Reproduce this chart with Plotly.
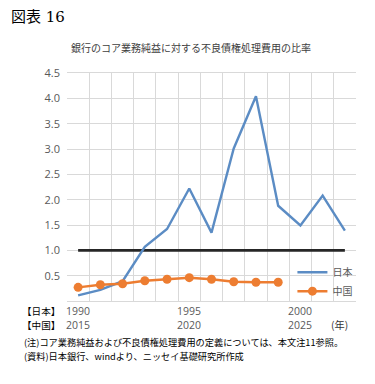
import plotly.graph_objects as go

# ---- data ----
japan_years = [1990, 1991, 1992, 1993, 1994, 1995, 1996, 1997, 1998, 1999, 2000, 2001, 2002]
japan_ratio = [0.11, 0.22, 0.39, 1.07, 1.42, 2.22, 1.35, 3.01, 4.04, 1.88, 1.49, 2.08, 1.39]
china_years = [2015, 2016, 2017, 2018, 2019, 2020, 2021, 2022, 2023, 2024]
china_ratio = [0.27, 0.32, 0.34, 0.40, 0.43, 0.46, 0.43, 0.38, 0.37, 0.37]
reference_level = 1.0
y_ticks = [0.5, 1.0, 1.5, 2.0, 2.5, 3.0, 3.5, 4.0, 4.5]
japan_tick_years = [1990, 1995, 2000]
china_tick_years = [2015, 2020, 2025]

title_text = "銀行のコア業務純益に対する不良債権処理費用の比率"
figure_label = "図表 16"
note_lines = ["(注)コア業務純益および不良債権処理費用の定義については、本文注11参照。",
              "(資料)日本銀行、windより、ニッセイ基礎研究所作成"]
row_labels = ["【日本】", "【中国】"]
unit_label = "(年)"

JP_FONT = "Noto Sans CJK JP"
NUM_FONT = "Open Sans, Noto Sans, sans-serif"
GRID = "#d9d9d9"
TICK_COL = "#595959"

fig = go.Figure()

fig.add_trace(go.Scatter(
    x=japan_years, y=[reference_level] * len(japan_years), mode="lines",
    line=dict(color="#262626", width=2.6), showlegend=False, hoverinfo="skip"))

fig.add_trace(go.Scatter(
    x=japan_years, y=japan_ratio, mode="lines", name="日本",
    line=dict(color="#5b8cc4", width=2.4)))

fig.add_trace(go.Scatter(
    x=china_years, y=china_ratio, mode="lines+markers", name="中国",
    xaxis="x2",
    line=dict(color="#ed7d31", width=2.4),
    marker=dict(color="#ed7d31", size=9)))

span = len(japan_years)
fig.update_layout(
    width=375, height=384,
    margin=dict(l=67, r=19, t=73, b=83),
    paper_bgcolor="white", plot_bgcolor="white",
    font=dict(family=JP_FONT, size=11, color="#000000"),
    xaxis=dict(
        range=[japan_years[0] - 0.5, japan_years[0] - 0.5 + span],
        showticklabels=False, showgrid=False, ticks="", zeroline=False,
        showline=True, mirror=True, linecolor=GRID, linewidth=1,
        minor=dict(tickmode="linear", tick0=japan_years[0] - 0.5, dtick=1,
                   showgrid=True, gridcolor=GRID, gridwidth=1),
    ),
    xaxis2=dict(
        overlaying="x", anchor="y", side="bottom",
        range=[china_years[0] - 0.5, china_years[0] - 0.5 + span],
        showticklabels=False, showgrid=False, ticks="", zeroline=False, showline=False,
    ),
    yaxis=dict(
        range=[0, 4.5], tickvals=y_ticks, tickformat=".1f",
        showgrid=True, gridcolor=GRID, gridwidth=1,
        zeroline=True, zerolinecolor=GRID, zerolinewidth=1,
        ticks="", ticklabelstandoff=6,
        tickfont=dict(family=NUM_FONT, size=11, color=TICK_COL),
    ),
    legend=dict(x=0.78, y=0.19, xanchor="left", yanchor="top",
                bgcolor="rgba(0,0,0,0)", font=dict(family=JP_FONT, size=10, color=TICK_COL),
                tracegroupgap=0, itemwidth=30),
    showlegend=True,
)

row_shift = [-9.5, -23.5]
annotations = [
    dict(text=figure_label, xref="paper", yref="paper", x=0, y=1, xshift=-58, yshift=56,
         xanchor="left", yanchor="middle", showarrow=False,
         font=dict(family="DejaVu Serif, " + JP_FONT, size=15, color="#000000")),
    dict(text=title_text, xref="paper", yref="paper", x=0.43, y=1, yshift=26,
         xanchor="center", yanchor="middle", showarrow=False,
         font=dict(family=JP_FONT, size=10, color="#404040")),
    dict(text=unit_label, xref="paper", yref="paper", x=1, y=0, xshift=-17, yshift=row_shift[1],
         xanchor="center", yanchor="middle", showarrow=False, borderpad=0,
         font=dict(family=JP_FONT, size=10.2, color="#333333")),
]
for lbl, ys in zip(row_labels, row_shift):
    annotations.append(dict(text=lbl, xref="paper", yref="paper", x=0, y=0,
                            xshift=-46, yshift=ys, borderpad=0,
                            xanchor="left", yanchor="middle", showarrow=False,
                            font=dict(family=JP_FONT, size=9.6, color="#000000")))
for jy, cy in zip(japan_tick_years, china_tick_years):
    annotations.append(dict(text=str(jy), xref="x", yref="paper", x=jy, y=0,
                            yshift=row_shift[0], borderpad=0,
                            xanchor="center", yanchor="middle", showarrow=False,
                            font=dict(family=NUM_FONT, size=10.5, color=TICK_COL)))
    annotations.append(dict(text=str(cy), xref="x2", yref="paper", x=cy, y=0,
                            yshift=row_shift[1], borderpad=0,
                            xanchor="center", yanchor="middle", showarrow=False,
                            font=dict(family=NUM_FONT, size=10.5, color=TICK_COL)))
for i, line in enumerate(note_lines):
    annotations.append(dict(text=line, xref="paper", yref="paper", x=0, y=0,
                            xshift=-44, yshift=-41 - 13.5 * i, borderpad=0,
                            xanchor="left", yanchor="middle", showarrow=False,
                            font=dict(family=JP_FONT, size=9.2, color="#000000")))
fig.update_layout(annotations=annotations)

fig.write_html("out.html", config={"displayModeBar": False},
               post_script="document.body.style.margin='0px';document.body.style.padding='0px';")
